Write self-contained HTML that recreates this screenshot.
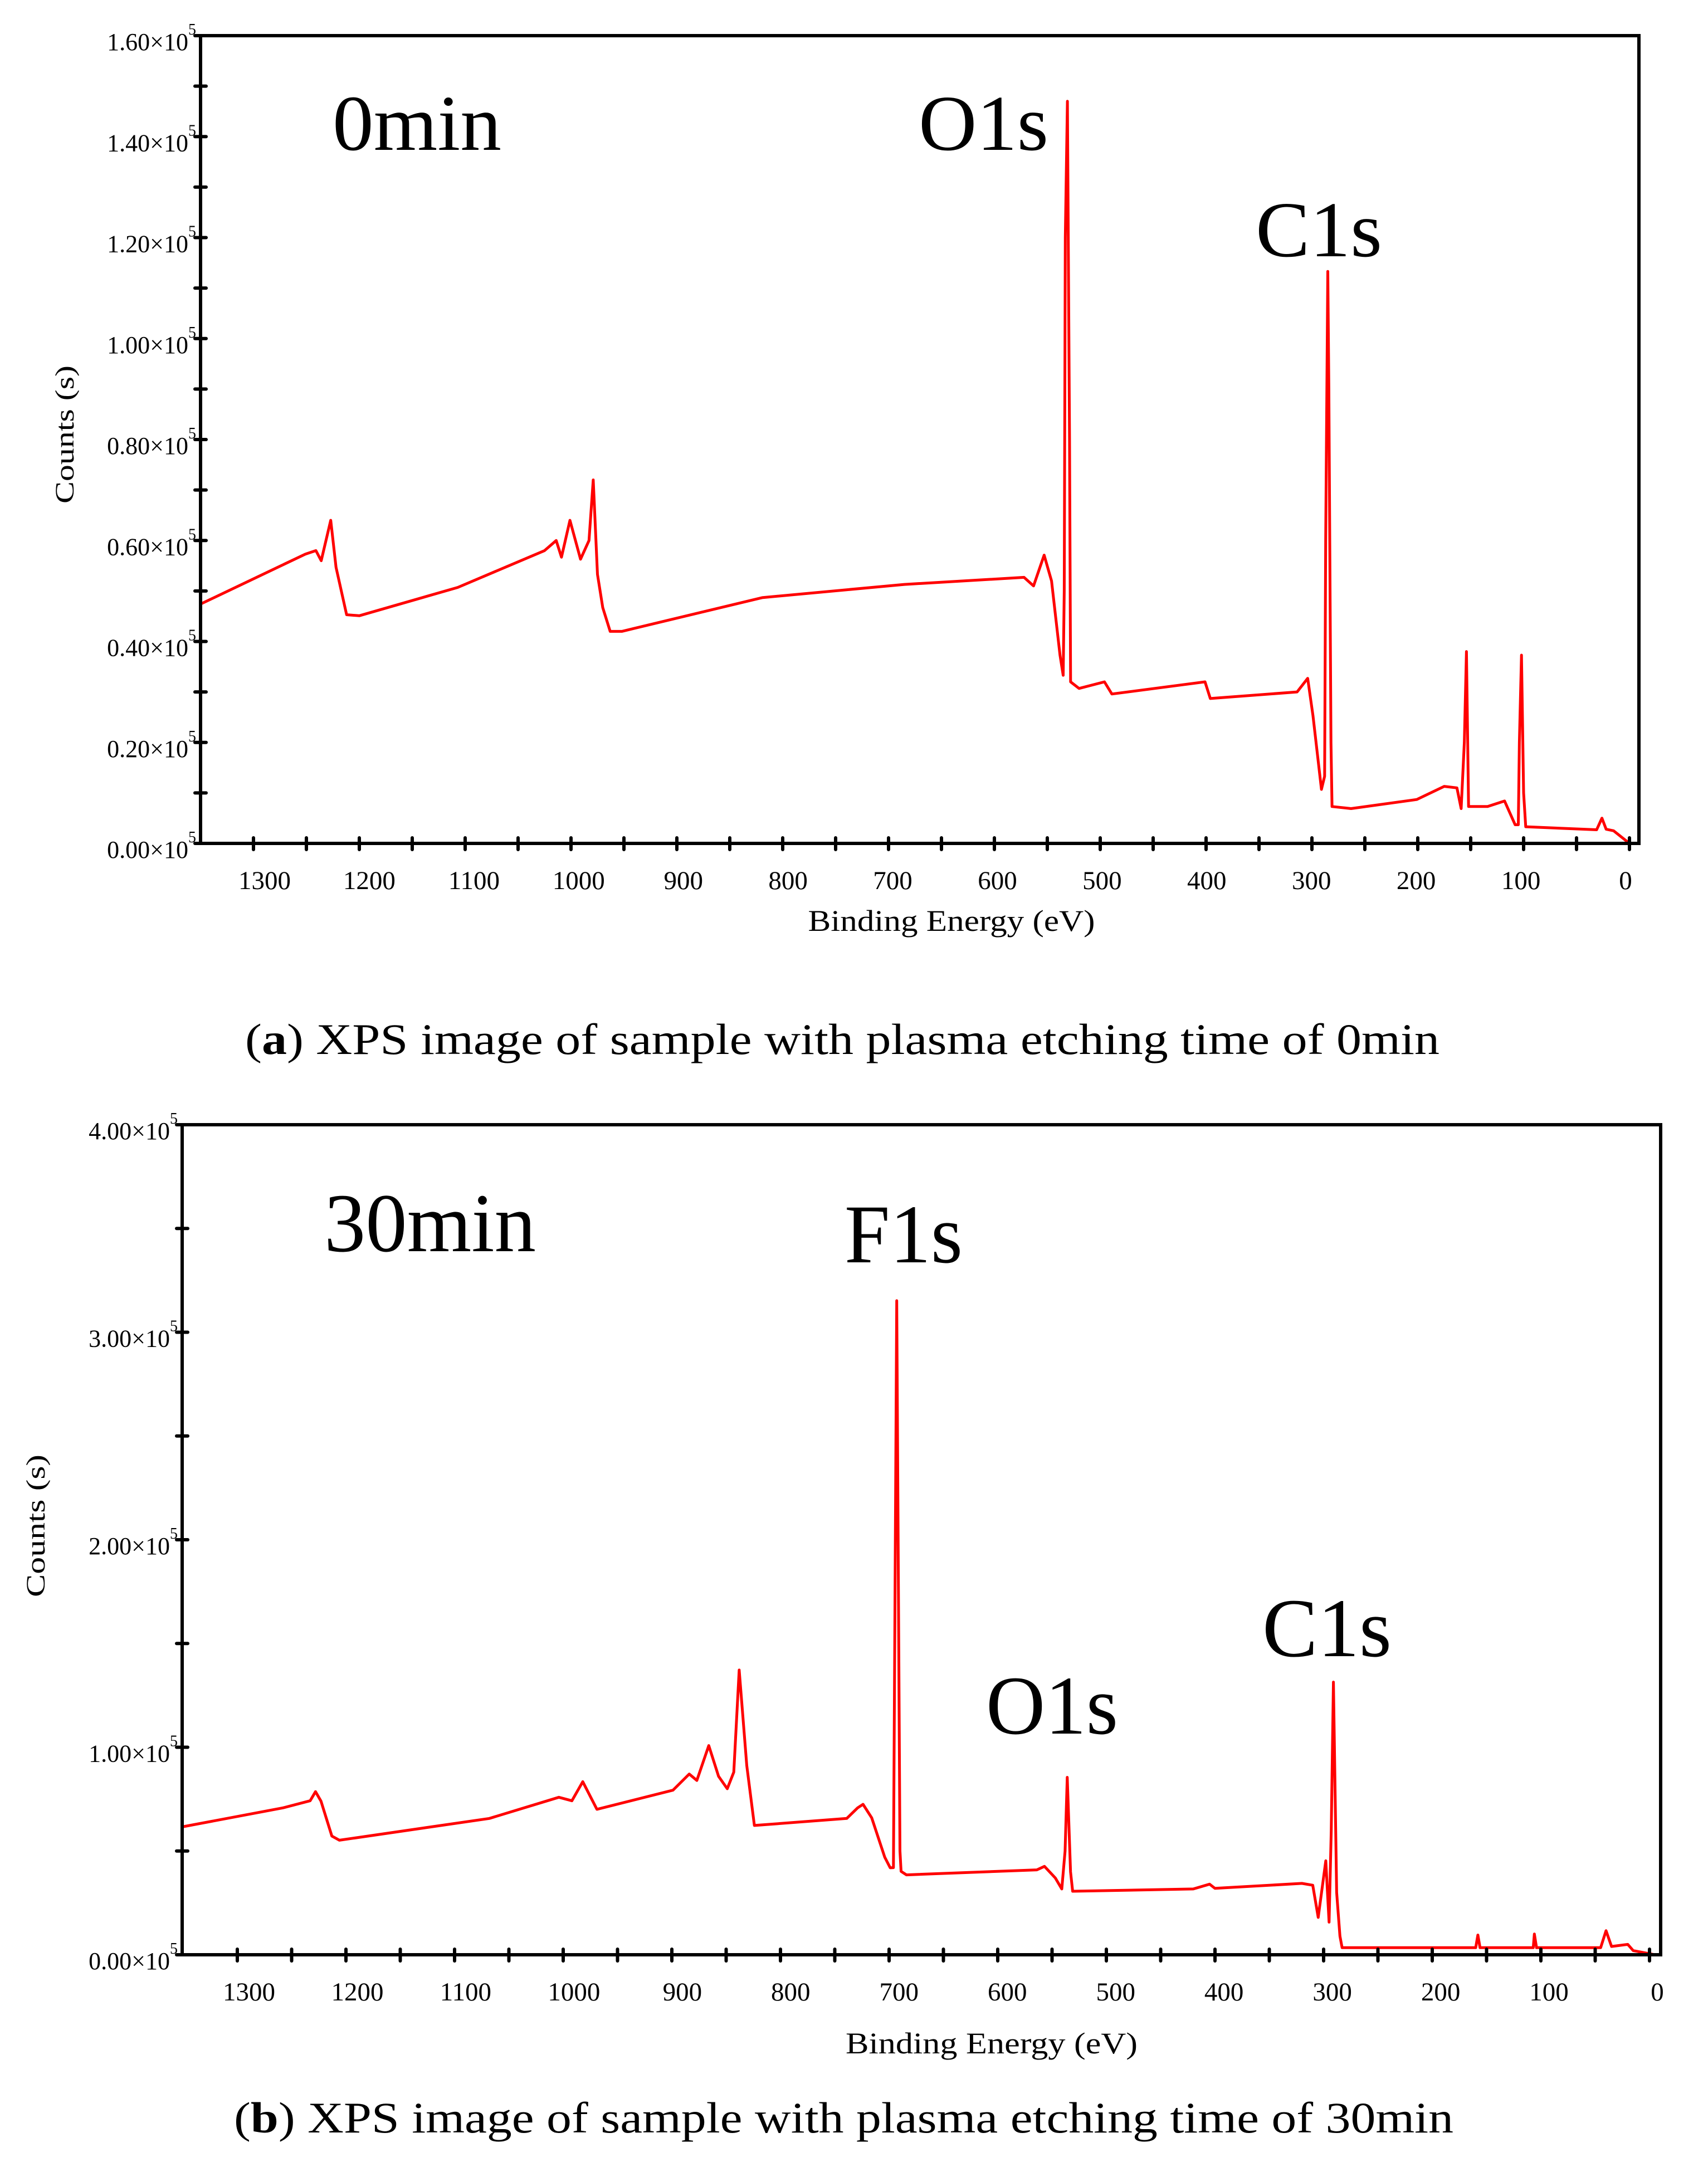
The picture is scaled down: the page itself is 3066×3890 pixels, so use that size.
<!DOCTYPE html>
<html><head><meta charset="utf-8"><style>
html,body{margin:0;padding:0;background:#fff;}
svg, svg text{font-family:"Liberation Serif","Times New Roman","Nimbus Roman",serif;}
svg{display:block;}
</style></head><body>
<svg id="fig" width="3066" height="3890" viewBox="0 0 3066 3890" xmlns="http://www.w3.org/2000/svg" font-family="Liberation Serif, serif">
<rect width="3066" height="3890" fill="#fff"/>
<g id="chartA"></g>
<g id="chartB"></g>
<text x="440" y="1892" font-size="78" textLength="2144" lengthAdjust="spacingAndGlyphs">(<tspan font-weight="bold">a</tspan>) XPS image of sample with plasma etching time of 0min</text>
<text x="420" y="3828" font-size="78" textLength="2189" lengthAdjust="spacingAndGlyphs">(<tspan font-weight="bold">b</tspan>) XPS image of sample with plasma etching time of 30min</text>
</svg>
<script>
// Chart A data (binding energy eV, counts in units of 1e5)
const energyA = [1351,1251,1241,1236,1227,1222,1212,1200,1107,1025,1014,1009,1001,991,983,979,975,970,963,952,819,685,572,563,553,546,538,535,534,533,531,529,528,520,496,489,401,396,314,304,299,291,288,287,285,284,282,281,263,201,175,163,159,156,154,152,134,118,108,105,104,102,100,98,31,26,22,15,0,-9];
const countsA = [0.473,0.573,0.58,0.56,0.64,0.547,0.453,0.451,0.507,0.58,0.60,0.567,0.64,0.563,0.60,0.72,0.533,0.467,0.42,0.42,0.487,0.513,0.527,0.51,0.571,0.52,0.373,0.333,0.5,1.2,1.47,0.8,0.32,0.307,0.32,0.296,0.32,0.287,0.30,0.327,0.253,0.107,0.133,0.6,1.133,0.9,0.2,0.073,0.069,0.087,0.113,0.11,0.069,0.2,0.38,0.073,0.073,0.084,0.037,0.037,0.2,0.373,0.1,0.033,0.027,0.05,0.028,0.025,0,0];
const yTicksA = ["0.00","0.20","0.40","0.60","0.80","1.00","1.20","1.40","1.60"];
const xTickLabels = ["1300","1200","1100","1000","900","800","700","600","500","400","300","200","100","0"];
// Chart B data
const energyB = [1351,1258,1233,1228,1223,1213,1206,1068,1004,992,982,969,899,884,877,866,857,849,843,838,831,824,739,729,724,716,704,699,696,693,690,689,684,564,557,547,541,538,536,533,531,420,405,400,320,310,305,298,295,293,291,288,285,283,160,158,156,107,106,104,45,40,35,20,15,-5];
const countsB = [0.616,0.708,0.742,0.786,0.74,0.572,0.552,0.657,0.759,0.742,0.834,0.701,0.793,0.871,0.84,1.008,0.86,0.80,0.88,1.372,0.912,0.623,0.657,0.708,0.725,0.66,0.47,0.419,0.42,3.152,0.5,0.402,0.385,0.409,0.426,0.37,0.317,0.5,0.855,0.4,0.306,0.317,0.34,0.32,0.344,0.335,0.18,0.453,0.157,0.6,1.314,0.3,0.09,0.034,0.034,0.095,0.034,0.034,0.10,0.034,0.034,0.116,0.04,0.05,0.02,0];
const yTicksB = ["0.00","1.00","2.00","3.00","4.00"];

const NS="http://www.w3.org/2000/svg";
function mk(parent,tag,attrs,txt){const e=document.createElementNS(NS,tag);for(const k in attrs)e.setAttribute(k,attrs[k]);if(txt!==undefined)e.textContent=txt;parent.appendChild(e);return e;}

function drawChart(g,cfg,energy,counts,yLabels){
  const xs=E=>cfg.x0-E*cfg.kx;
  const ys=v=>cfg.yb-(v/cfg.ymax)*(cfg.yb-cfg.yt);
  let d="";
  for(let i=0;i<energy.length;i++){d+=(i?"L":"M")+xs(energy[i]).toFixed(1)+" "+ys(counts[i]).toFixed(1);}
  const p=mk(g,"path",{d:d,fill:"none",stroke:"#ff0000","stroke-width":5,"stroke-linejoin":"round"});
  
  
  const f=mk(g,"rect",{x:cfg.xl,y:cfg.yt,width:cfg.xr-cfg.xl,height:cfg.yb-cfg.yt,fill:"none",stroke:"#000","stroke-width":6});
  
  
  for(let E=1300;E>=0;E-=50){
    const t=mk(g,"line",{x1:xs(E),x2:xs(E),y1:cfg.yb-10,y2:cfg.yb+11,stroke:"#000","stroke-width":6,"stroke-linecap":"round"});
    
    
  }
  xTickLabels.forEach((lab,i)=>{
    const E=1300-i*100;
    const cx=cfg.lx0+(1300-E)*(cfg.lx1-cfg.lx0)/1300;
    const t=mk(g,"text",{x:cx,y:cfg.yb+82,"font-size":47,"text-anchor":"middle"},lab);
    
    
  });
  for(let v=0;v<=cfg.ymax+1e-9;v+=cfg.minor){
    const t=mk(g,"line",{x1:cfg.xl-10,x2:cfg.xl+10,y1:ys(v),y2:ys(v),stroke:"#000","stroke-width":6,"stroke-linecap":"round"});
    
    
  }
  yLabels.forEach(lab=>{
    const y=ys(parseFloat(lab));
    const t=mk(g,"text",{x:cfg.xl-8,y:y+26,"font-size":44,"text-anchor":"end"});
    
    
    mk(t,"tspan",{},lab+"\u00d710");
    mk(t,"tspan",{"font-size":28,dy:-28},"5");
  });
  const xt=mk(g,"text",{x:cfg.xtx,y:cfg.xty,"font-size":54,"text-anchor":"middle",textLength:cfg.xtw,lengthAdjust:"spacingAndGlyphs"},"Binding Energy (eV)");
  
  
  const yt=mk(g,"text",{x:0,y:0,"font-size":48,"text-anchor":"middle",textLength:cfg.ytl,lengthAdjust:"spacingAndGlyphs",transform:`translate(${cfg.ytx},${cfg.yty}) rotate(-90)`},"Counts (s)");
  
  
  cfg.ann.forEach(a=>{
    const t=mk(g,"text",{x:a[1],y:a[3],"font-size":a[4],textLength:a[2]-a[1],lengthAdjust:"spacingAndGlyphs"},a[0]);
    
    
  });
}

drawChart(document.getElementById('chartA'),{
  xl:360,xr:2942,yt:64,yb:1514,x0:2925,kx:1.9,ymax:1.6,minor:0.1,
  lx0:475,lx1:2918,xtx:1708,xty:1671,xtw:515,ytx:132,yty:780,ytl:248,
  ann:[["0min",597,900,269,142],["O1s",1649,1882,269,142],["C1s",2254,2481,460,142]]
},energyA,countsA,yTicksA);

drawChart(document.getElementById('chartB'),{
  xl:327,xr:2981,yt:2019,yb:3509,x0:2961,kx:1.95,ymax:4.0,minor:0.5,
  lx0:447,lx1:2975,xtx:1780,xty:3686,xtw:524,ytx:80,yty:2739,ytl:256,
  ann:[["30min",582,962,2246,150],["F1s",1516,1728,2266,150],["O1s",1770,2007,3112,150],["C1s",2266,2498,2973,150]]
},energyB,countsB,yTicksB);
</script>
</body></html>
